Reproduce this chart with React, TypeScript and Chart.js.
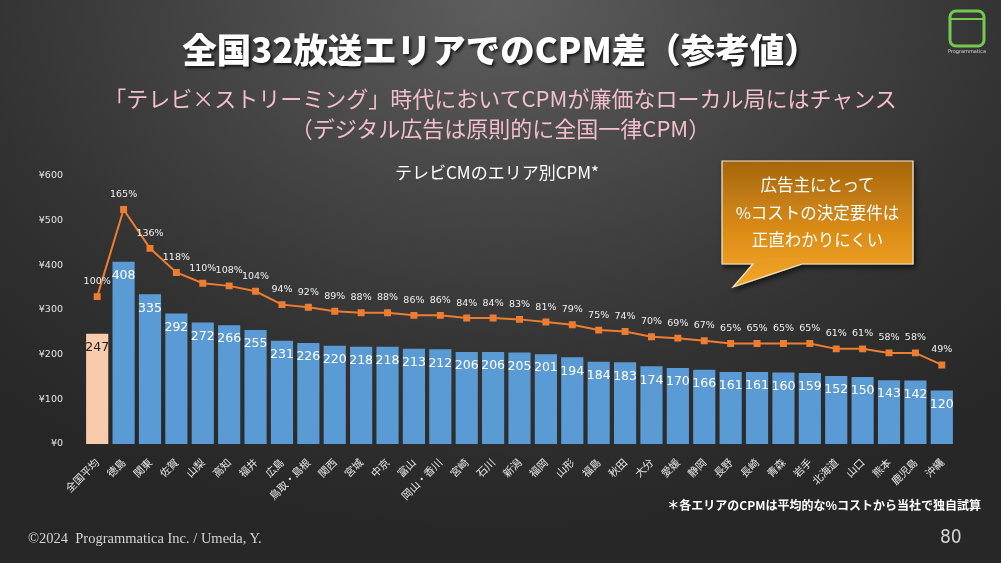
import React, { useEffect, useRef } from "react";
import { Chart, registerables } from "chart.js";

Chart.register(...registerables);

const categories = [
  "全国平均", "徳島", "関東", "佐賀", "山梨", "高知", "福井", "広島", "鳥取・島根", "関西", "宮城",
  "中京", "富山", "岡山・香川", "宮崎", "石川", "新潟", "福岡", "山形", "福島", "秋田", "大分",
  "愛媛", "静岡", "長野", "長崎", "青森", "岩手", "北海道", "山口", "熊本", "鹿児島", "沖縄",
];
const cpmValues = [
  247, 408, 335, 292, 272, 266, 255, 231, 226, 220, 218, 218, 213, 212, 206, 206, 205, 201, 194,
  184, 183, 174, 170, 166, 161, 161, 160, 159, 152, 150, 143, 142, 120,
];
const indexPct = [
  100, 165, 136, 118, 110, 108, 104, 94, 92, 89, 88, 88, 86, 86, 84, 84, 83, 81, 79, 75, 74, 70,
  69, 67, 65, 65, 65, 65, 61, 61, 58, 58, 49,
];
const yTickMin = 0;
const yTickMax = 600;
const yTickStep = 100;

const FONT = "'Noto Sans CJK JP', 'Noto Sans', sans-serif";
const NUM_FONT = "'DejaVu Sans', sans-serif";
const BAR_BLUE = "#5B9BD5";
const BAR_PEACH = "#F8CBAD";
const LINE_ORANGE = "#ED7D31";

const labelPlugin = {
  id: "valueLabels",
  afterDatasetsDraw(chart: any) {
    const ctx = chart.ctx;
    ctx.save();
    chart.data.datasets.forEach((ds: any, di: number) => {
      const meta = chart.getDatasetMeta(di);
      meta.data.forEach((el: any, i: number) => {
        if (ds.type === "bar") {
          ctx.font = `400 12.5px ${NUM_FONT}`;
          ctx.fillStyle = i === 0 ? "#222222" : "#ffffff";
          ctx.textAlign = "center";
          ctx.textBaseline = "middle";
          ctx.fillText(String(ds.data[i]), el.x, el.y + 14);
        } else {
          ctx.font = `400 9.5px ${NUM_FONT}`;
          ctx.fillStyle = "#f0f0f0";
          ctx.textAlign = "center";
          ctx.textBaseline = "middle";
          ctx.fillText(ds.data[i] + "%", el.x, el.y - 15);
        }
      });
    });
    ctx.restore();
  },
};

function CpmChart() {
  const ref = useRef<HTMLCanvasElement | null>(null);
  useEffect(() => {
    if (!ref.current) return;
    const chart = new Chart(ref.current, {
      type: "bar",
      data: {
        labels: categories,
        datasets: [
          {
            type: "line",
            label: "index",
            data: indexPct,
            yAxisID: "y2",
            borderColor: LINE_ORANGE,
            backgroundColor: LINE_ORANGE,
            borderWidth: 2,
            pointStyle: "rect",
            pointRadius: 3.5,
            pointBackgroundColor: LINE_ORANGE,
            pointBorderColor: LINE_ORANGE,
            tension: 0,
            order: 0,
          } as any,
          {
            type: "bar",
            label: "CPM",
            data: cpmValues,
            yAxisID: "y",
            backgroundColor: cpmValues.map((_, i) => (i === 0 ? BAR_PEACH : BAR_BLUE)),
            categoryPercentage: 1,
            barPercentage: 0.84,
            order: 1,
          } as any,
        ],
      },
      options: {
        responsive: false,
        animation: false,
        layout: { padding: { left: 24, right: 46, top: 176, bottom: 49 } },
        plugins: { legend: { display: false }, tooltip: { enabled: false }, title: { display: false } },
        scales: {
          x: {
            grid: { display: false },
            border: { display: false },
            ticks: {
              color: "#e6e6e6",
              font: { size: 10.5, family: FONT },
              maxRotation: 45,
              minRotation: 45,
              autoSkip: false,
              padding: 4,
            },
            afterFit: (s: any) => {
              s.height = 70;
            },
          },
          y: {
            min: yTickMin,
            max: yTickMax,
            grid: { display: false },
            border: { display: false },
            ticks: {
              stepSize: yTickStep,
              color: "#e6e6e6",
              font: { size: 9.5, family: NUM_FONT },
              padding: 13,
              callback: (v: any) => "¥" + v,
            },
            afterFit: (s: any) => {
              s.width = 60;
            },
          },
          y2: { display: false, min: -10, max: 190 },
        },
      },
      plugins: [labelPlugin],
    });
    return () => chart.destroy();
  }, []);
  return (
    <canvas
      ref={ref}
      width={1001}
      height={563}
      style={{ position: "absolute", left: 0, top: 0, width: 1001, height: 563 }}
    />
  );
}

export default function App() {
  return (
    <div
      style={{
        position: "fixed",
        left: 0,
        top: 0,
        width: 1001,
        height: 563,
        overflow: "hidden",
        fontFamily: FONT,
        background:
          "radial-gradient(ellipse 75% 95% at 50% 0%, #5e5e5e 0%, #444444 40%, #323232 70%, #272727 100%)",
      }}
    >
      <CpmChart />
      <div
        style={{
          position: "absolute",
          left: 0,
          width: 1001,
          top: 25,
          textAlign: "center",
          color: "#ffffff",
          fontWeight: 900,
          fontSize: 34.5,
          lineHeight: "46px",
          textShadow: "2px 2px 3px rgba(0,0,0,0.7)",
        }}
      >
        全国32放送エリアでのCPM差（参考値）
      </div>
      <div
        style={{
          position: "absolute",
          left: 0,
          width: 1001,
          top: 82,
          textAlign: "center",
          color: "#F3BFCB",
          fontSize: 22,
          lineHeight: "30px",
          whiteSpace: "nowrap",
        }}
      >
        「テレビ×ストリーミング」時代においてCPMが廉価なローカル局にはチャンス
        <br />
        （デジタル広告は原則的に全国一律CPM）
      </div>
      <div
        style={{
          position: "absolute",
          left: 300,
          width: 394,
          top: 160,
          textAlign: "center",
          color: "#ffffff",
          fontSize: 17,
          lineHeight: "24px",
        }}
      >
        テレビCMのエリア別CPM*
      </div>
      <svg
        width={1001}
        height={563}
        style={{ position: "absolute", left: 0, top: 0, pointerEvents: "none" }}
      >
        <defs>
          <linearGradient id="cg" x1="0" y1="0" x2="0" y2="1">
            <stop offset="0" stopColor="#A5670F" />
            <stop offset="0.55" stopColor="#DB8C16" />
            <stop offset="1" stopColor="#F4A72A" />
          </linearGradient>
          <filter id="sh" x="-10%" y="-10%" width="130%" height="130%">
            <feDropShadow dx="2" dy="3" stdDeviation="2.5" floodColor="#000" floodOpacity="0.6" />
          </filter>
        </defs>
        <path
          d="M722,161 H913 V264 H802 L733,287 L753,264 H722 Z"
          fill="url(#cg)"
          stroke="#f3e6cc"
          strokeWidth={1.2}
          filter="url(#sh)"
        />
        <g>
          <rect x={950} y={11} width={34} height={35} rx={6} fill="none" stroke="#74C94F" strokeWidth={3} />
          <line x1={951} y1={19} x2={983} y2={19} stroke="#74C94F" strokeWidth={2} />
          <text x={967} y={53} textAnchor="middle" fill="#dddddd" fontSize={5} fontFamily="'DejaVu Sans', sans-serif">
            Programmatica
          </text>
        </g>
      </svg>
      <div
        style={{
          position: "absolute",
          left: 722,
          width: 191,
          top: 171,
          textAlign: "center",
          color: "#ffffff",
          fontSize: 16.5,
          lineHeight: "27.5px",
        }}
      >
        広告主にとって
        <br />
        %コストの決定要件は
        <br />
        正直わかりにくい
      </div>
      <div
        style={{
          position: "absolute",
          right: 20,
          top: 496,
          color: "#ffffff",
          fontWeight: 700,
          fontSize: 12,
          lineHeight: "18px",
          whiteSpace: "nowrap",
        }}
      >
        ＊各エリアのCPMは平均的な%コストから当社で独自試算
      </div>
      <div
        style={{
          position: "absolute",
          left: 28,
          top: 528,
          color: "#d4d4d4",
          fontFamily: "'Liberation Serif', serif",
          fontSize: 14.5,
          lineHeight: "20px",
          whiteSpace: "pre",
        }}
      >
        {"©2024  Programmatica Inc. / Umeda, Y."}
      </div>
      <div
        style={{
          position: "absolute",
          left: 940,
          top: 524,
          color: "#d4d4d4",
          fontFamily: "'DejaVu Sans', sans-serif",
          fontStretch: "condensed",
          fontSize: 19,
          lineHeight: "24px",
        }}
      >
        80
      </div>
    </div>
  );
}
